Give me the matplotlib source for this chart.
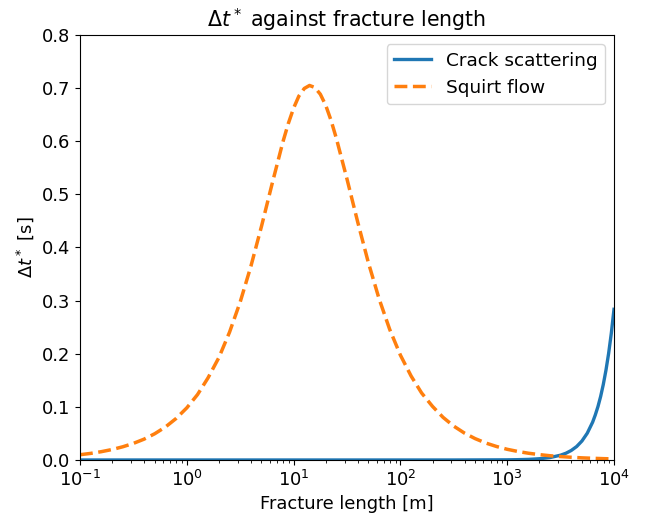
import numpy as np
import matplotlib
matplotlib.use('Agg')
import matplotlib.pyplot as plt

plt.rcParams['font.size'] = 12.9

# squirt flow curve
squirt_len = [0.1, 0.126, 0.158, 0.2, 0.251, 0.316, 0.398, 0.501, 0.631, 0.794,
              1.0, 1.26, 1.58, 2.0, 2.51, 3.16, 3.98, 5.01, 6.31, 7.94,
              8.91, 10.0, 11.2, 12.6, 14.1, 15.8, 17.8, 20.0, 22.4, 25.1,
              31.6, 39.8, 50.1, 63.1, 79.4, 100, 126, 158, 200, 251,
              316, 398, 501, 631, 794, 1000, 1260, 1580, 2000, 2510,
              3160, 3980, 5010, 6310, 7940, 10000]
squirt_dt = [0.0099, 0.0124, 0.0156, 0.0197, 0.0248, 0.0312, 0.0392, 0.0494, 0.0621, 0.0781,
             0.0981, 0.1231, 0.1545, 0.1930, 0.2403, 0.2973, 0.3644, 0.4402, 0.5209, 0.5987,
             0.6330, 0.6623, 0.6850, 0.6994, 0.7050, 0.7012, 0.6885, 0.6676, 0.6395, 0.6059,
             0.5291, 0.4483, 0.3717, 0.3037, 0.2458, 0.1974, 0.1580, 0.1261, 0.1008, 0.0802,
             0.0637, 0.0506, 0.0402, 0.0319, 0.0254, 0.0201, 0.0160, 0.0127, 0.0101, 0.0080,
             0.0064, 0.0051, 0.0040, 0.0032, 0.0025, 0.0020]

# crack scattering curve
crack_len = [0.1, 1.0, 10.0, 100, 316, 1000, 1260, 1580, 2000, 2510,
             3160, 3550, 3980, 4470, 5010, 5620, 6310, 6680, 7080, 7500, 7940,
             8410, 8910, 9440, 10000]
crack_dt = [0.0, 0.0, 0.0, 0.0, 0.0, 0.0003, 0.0006, 0.0011, 0.0023, 0.0045,
            0.0090, 0.0127, 0.0179, 0.0253, 0.0357, 0.0504, 0.0712, 0.0847, 0.1006, 0.1196, 0.1421,
            0.1689, 0.2007, 0.2386, 0.2836]

fig = plt.figure(figsize=(6.52, 5.17), dpi=100)
ax = fig.add_axes([0.1227, 0.1103, 0.819, 0.822])

ax.plot(crack_len, crack_dt, color='#1f77b4', lw=2.4, label='Crack scattering')
ax.plot(squirt_len, squirt_dt, color='#ff7f0e', lw=2.5, ls='--', label='Squirt flow')

ax.set_xscale('log')
ax.set_xlim(0.1, 1e4)
ax.set_ylim(0, 0.8)
ax.set_xlabel('Fracture length [m]')
ax.set_ylabel(r'$\Delta t^*$ [s]')
ax.set_title(r'$\Delta t^*$ against fracture length', fontsize=14.8)
ax.legend(loc='upper right', fontsize=13.3)

fig.savefig('out.png', dpi=100)
